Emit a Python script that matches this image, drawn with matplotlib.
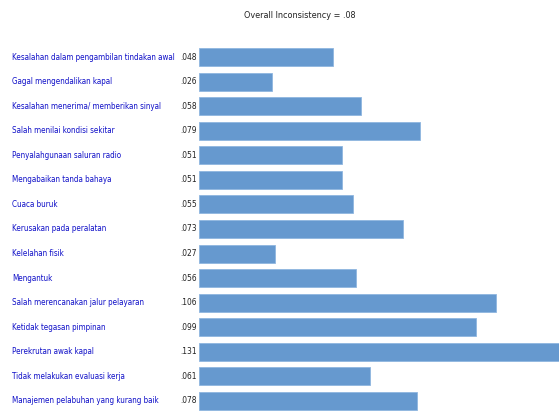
import matplotlib
matplotlib.use("Agg")
import matplotlib.pyplot as plt
import matplotlib.transforms as mtransforms

# criteria and their priority weights
criteria = [
    "Kesalahan dalam pengambilan tindakan awal",
    "Gagal mengendalikan kapal",
    "Kesalahan menerima/ memberikan sinyal",
    "Salah menilai kondisi sekitar",
    "Penyalahgunaan saluran radio",
    "Mengabaikan tanda bahaya",
    "Cuaca buruk",
    "Kerusakan pada peralatan",
    "Kelelahan fisik",
    "Mengantuk",
    "Salah merencanakan jalur pelayaran",
    "Ketidak tegasan pimpinan",
    "Perekrutan awak kapal",
    "Tidak melakukan evaluasi kerja",
    "Manajemen pelabuhan yang kurang baik",
]
weights = [.048, .026, .058, .079, .051, .051, .055, .073, .027, .056,
           .106, .099, .131, .061, .078]
value_labels = [".048", ".026", ".058", ".079", ".051", ".051", ".055", ".073",
                ".027", ".056", ".106", ".099", ".131", ".061", ".078"]
title = "Overall Inconsistency = .08"

W, H = 559, 411
fig = plt.figure(figsize=(W / 100, H / 100), dpi=100)
fig.patch.set_facecolor("white")

# rows spaced ~24.6px, first row centred at y=57
pitch = 24.57
top = 57 - pitch / 2
ax = fig.add_axes([199 / W, (H - (top + 15 * pitch)) / H, 360 / W, 15 * pitch / H])
y = list(range(len(criteria)))
ax.barh(y, weights, height=0.73, color="#6699cf", edgecolor="#8fb6e0", linewidth=0.6)
ax.set_xlim(0, 360 / 2800)
ax.set_ylim(len(criteria) - 0.5, -0.5)
ax.axis("off")

tr = mtransforms.blended_transform_factory(fig.transFigure, ax.transData)
for i, (name, lab) in enumerate(zip(criteria, value_labels)):
    ax.text(12 / W, i, name, transform=tr, ha="left", va="center",
            fontsize=5.8, color="#1010c8", family="DejaVu Sans",
            fontstretch="condensed", clip_on=False)
    ax.text(180 / W, i, lab, transform=tr, ha="left", va="center",
            fontsize=6, color="#222222", family="DejaVu Sans",
            fontstretch="condensed", clip_on=False)

fig.text(300 / W, 1 - 15 / H, title, ha="center", va="center",
         fontsize=6.5, color="#222222", family="DejaVu Sans", fontstretch="condensed")

fig.savefig("out.png", dpi=100)
